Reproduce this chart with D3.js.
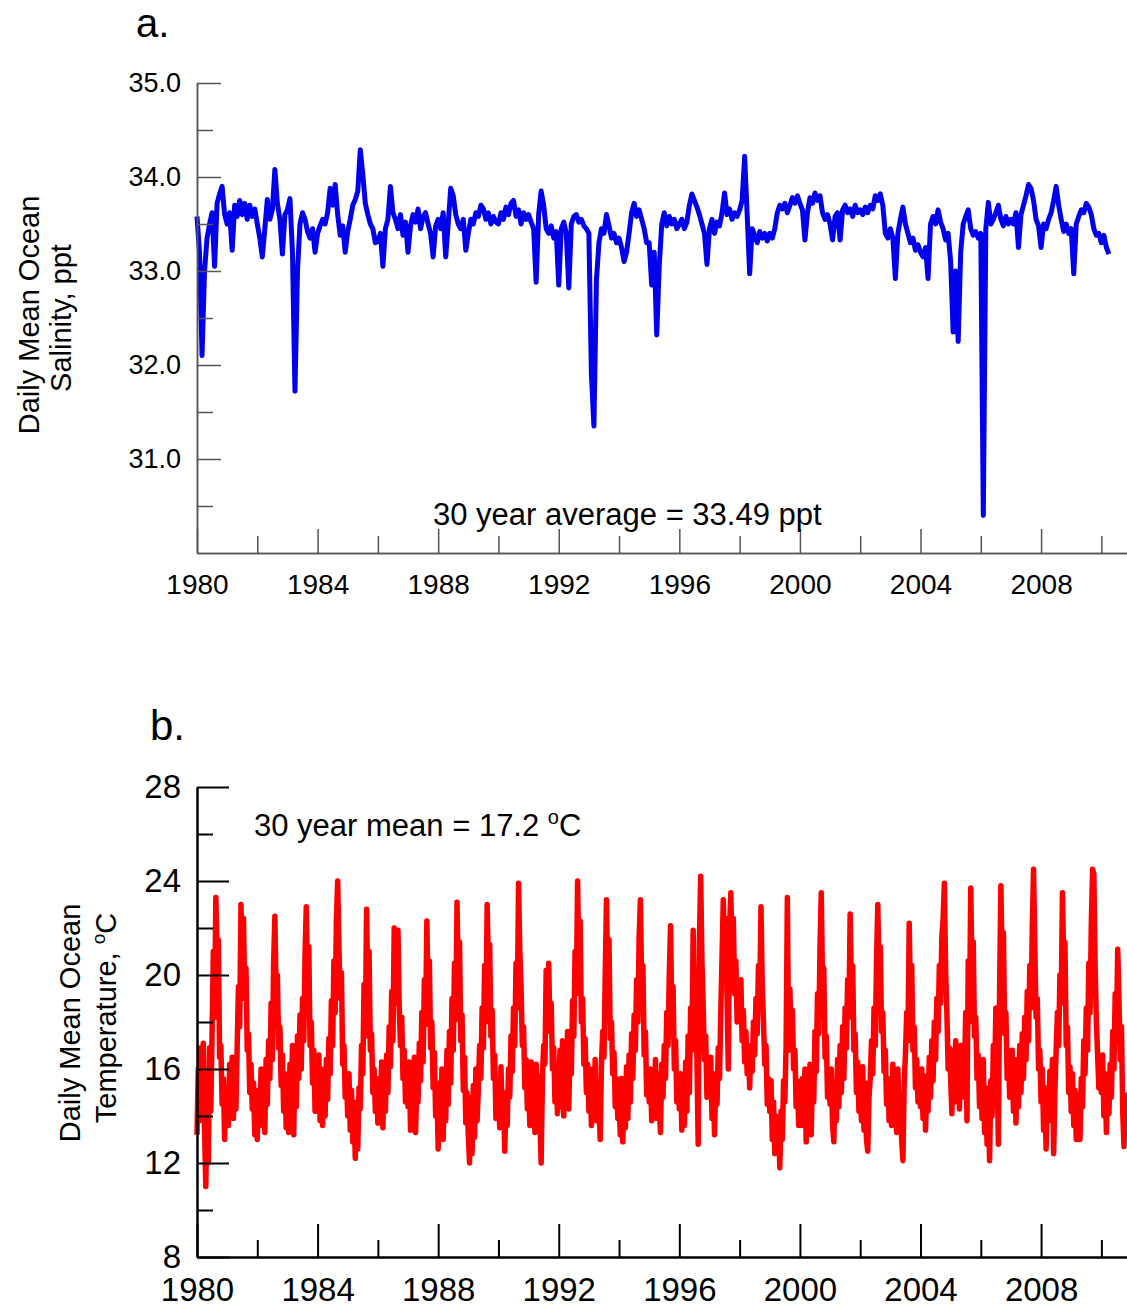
<!DOCTYPE html>
<html><head><meta charset="utf-8">
<script src="https://cdn.jsdelivr.net/npm/d3@7"></script>
<style>
html,body{margin:0;padding:0;background:#fff;}
svg{display:block;background:#fff;}
text{font-family:"Liberation Sans",Arial,Helvetica,sans-serif;fill:#000;}
</style></head><body>
<svg id="chart" width="1127" height="1308"></svg>
<script>
// ---------- tick values ----------
const yearTicks = [1980,1984,1988,1992,1996,2000,2004,2008];
const yearMinorTicks = [1982,1986,1990,1994,1998,2002,2006,2010];
const salinityTicks = [31,32,33,34,35];
const salinityMinorTicks = [30.5,31.5,32.5,33.5,34.5];
const temperatureTicks = [8,12,16,20,24,28];
const temperatureMinorTicks = [10,14,18,22,26];

// ---------- panel a: daily mean ocean salinity (ppt) ----------
const salinityStartYear = 1980;
const salinitySamplesPerYear = 12;
const salinity = [
  33.58,33.20,32.10,33.00,33.35,33.50,33.62,33.05,33.72,33.82,33.90,33.60, // 1980
  33.50,33.62,33.22,33.70,33.58,33.75,33.60,33.72,33.55,33.70,33.58,33.66, // 1981
  33.50,33.35,33.15,33.45,33.76,33.55,33.65,34.08,33.72,33.55,33.18,33.60, // 1982
  33.65,33.77,33.20,31.72,33.00,33.50,33.62,33.55,33.42,33.35,33.45,33.20, // 1983
  33.40,33.48,33.55,33.50,33.62,33.88,33.70,33.92,33.60,33.38,33.48,33.20, // 1984
  33.42,33.55,33.70,33.76,33.85,34.29,34.03,33.72,33.60,33.50,33.45,33.30, // 1985
  33.32,33.40,33.05,33.45,33.55,33.90,33.62,33.55,33.45,33.60,33.38,33.52, // 1986
  33.20,33.48,33.60,33.52,33.66,33.45,33.58,33.62,33.50,33.40,33.15,33.48, // 1987
  33.55,33.45,33.62,33.15,33.50,33.88,33.80,33.60,33.50,33.45,33.55,33.22, // 1988
  33.40,33.55,33.50,33.62,33.58,33.70,33.66,33.55,33.62,33.50,33.58,33.52, // 1989
  33.50,33.62,33.55,33.68,33.60,33.72,33.75,33.58,33.65,33.50,33.62,33.55, // 1990
  33.60,33.52,33.45,32.88,33.60,33.85,33.70,33.45,33.40,33.48,33.35,33.42, // 1991
  32.85,33.45,33.52,33.40,32.82,33.50,33.58,33.60,33.52,33.55,33.48,33.45, // 1992
  33.40,31.90,31.35,32.90,33.30,33.45,33.40,33.60,33.48,33.35,33.40,33.30, // 1993
  33.35,33.25,33.10,33.20,33.40,33.62,33.72,33.58,33.65,33.55,33.45,33.30, // 1994
  33.30,32.85,33.20,32.32,33.05,33.50,33.62,33.48,33.58,33.50,33.55,33.45, // 1995
  33.50,33.55,33.45,33.52,33.70,33.82,33.75,33.68,33.60,33.50,33.40,33.07, // 1996
  33.45,33.55,33.40,33.52,33.48,33.62,33.83,33.60,33.66,33.55,33.62,33.58, // 1997
  33.65,33.75,34.22,33.60,32.97,33.45,33.38,33.30,33.42,33.35,33.40,33.32, // 1998
  33.40,33.35,33.45,33.62,33.70,33.66,33.72,33.62,33.70,33.78,33.72,33.80, // 1999
  33.72,33.65,33.33,33.62,33.78,33.72,33.83,33.75,33.80,33.62,33.55,33.60, // 2000
  33.50,33.33,33.58,33.62,33.33,33.65,33.70,33.62,33.66,33.58,33.70,33.62, // 2001
  33.65,33.60,33.68,33.62,33.70,33.66,33.80,33.75,33.82,33.70,33.40,33.35, // 2002
  33.45,33.35,32.92,33.40,33.55,33.68,33.50,33.40,33.30,33.35,33.22,33.28, // 2003
  33.20,33.15,33.25,32.92,33.50,33.58,33.50,33.65,33.52,33.45,33.33,33.40, // 2004
  33.10,32.35,33.00,32.25,33.20,33.50,33.58,33.65,33.45,33.38,33.42,33.35, // 2005
  33.40,30.40,33.45,33.73,33.50,33.55,33.62,33.70,33.55,33.48,33.58,33.50, // 2006
  33.55,33.50,33.62,33.25,33.60,33.70,33.80,33.92,33.88,33.75,33.55,33.48, // 2007
  33.25,33.50,33.45,33.55,33.62,33.75,33.90,33.70,33.55,33.42,33.50,33.40, // 2008
  33.45,32.97,33.50,33.58,33.65,33.62,33.72,33.68,33.60,33.45,33.38,33.40, // 2009
  33.30,33.38,33.25,33.18                                                  // 2010
];

// ---------- panel b: daily mean ocean temperature (deg C), read twice a month from the figure ----------
const temperatureStartYear = 1980;
const temperatureSamplesPerYear = 24;
const temperature = [
  13.2,16.0,13.8,16.9,14.1,17.1,13.5,11.0,14.8,12.0,16.9,14.2,17.5,21.0,18.2,23.3,20.9,21.5,16.5,17.0,14.5,15.6,13.0,15.2, // 1980
  15.0,13.6,16.2,14.1,16.5,13.9,15.8,14.3,17.0,19.5,17.8,23.0,21.0,22.4,19.0,20.3,16.8,17.5,15.0,16.2,14.3,15.4,13.2,14.6, // 1981
  13.0,15.1,13.6,16.0,13.9,15.7,13.3,16.4,14.5,17.2,15.6,18.8,16.4,20.5,22.5,19.1,20.0,16.9,17.8,15.3,16.6,14.2,15.8,13.5, // 1982
  15.0,13.3,16.2,14.0,17.0,13.2,16.3,14.4,17.4,15.6,18.3,16.0,19.0,17.2,20.8,22.9,19.5,21.2,17.0,18.0,15.4,16.8,14.2,15.6, // 1983
  14.5,16.6,13.8,16.0,13.6,15.5,14.0,16.4,14.7,17.3,15.8,18.9,17.0,20.6,18.4,22.4,24.0,21.2,19.0,20.1,16.2,17.0,14.8,15.6, // 1984
  14.0,15.8,13.4,15.1,12.9,14.6,12.2,14.0,12.6,15.2,14.3,17.0,15.8,19.6,17.4,22.8,19.2,21.0,16.8,17.5,15.0,16.0,14.2,15.3, // 1985
  13.7,15.6,14.0,16.3,13.5,15.8,14.2,16.6,15.0,17.8,16.1,19.3,17.2,22.0,18.8,20.4,21.9,18.6,17.0,18.2,15.6,16.8,14.6,15.9, // 1986
  14.4,16.3,13.4,15.8,13.9,16.5,13.3,15.4,14.6,17.1,15.5,18.4,16.3,19.8,17.9,22.3,19.0,20.6,16.9,18.0,15.2,16.7,14.0,15.2, // 1987
  12.6,15.4,13.3,16.0,13.0,15.7,13.8,16.8,14.5,17.6,15.4,19.0,16.8,20.5,18.1,23.1,19.8,21.4,17.2,18.3,15.1,16.5,13.7,15.0, // 1988
  13.2,12.0,14.8,12.4,15.3,13.1,16.0,13.8,15.2,17.0,15.6,18.6,16.9,20.4,18.0,23.0,20.2,21.3,17.4,18.5,15.6,16.6,13.9,15.4, // 1989
  14.9,13.5,16.1,13.8,15.0,12.5,14.6,13.6,16.0,14.8,17.4,15.9,18.6,17.0,20.5,18.6,23.9,21.0,19.5,17.0,17.8,15.2,16.4,14.3, // 1990
  15.4,13.6,16.3,14.0,15.8,13.3,16.2,14.5,15.7,13.8,12.0,15.6,17.0,16.2,20.2,18.0,20.5,17.6,18.8,16.0,16.9,14.6,15.8,14.1, // 1991
  15.2,16.8,14.4,17.2,14.0,16.5,14.6,17.6,14.3,17.0,15.8,18.9,17.4,21.0,19.2,24.0,20.4,22.3,18.0,19.0,16.2,17.3,15.0,16.2, // 1992
  14.2,16.0,13.6,15.7,14.1,16.4,13.8,15.3,14.5,13.0,16.2,17.6,16.5,20.0,23.2,19.4,21.5,17.3,18.0,15.8,16.7,14.4,15.6,13.9, // 1993
  14.8,13.2,15.6,12.9,15.0,13.5,16.1,13.9,16.6,14.6,17.5,15.6,18.3,16.8,19.8,18.0,21.6,23.2,19.6,20.4,16.6,17.6,14.9,15.8, // 1994
  14.6,16.0,13.8,15.5,14.2,16.4,13.9,15.8,14.5,13.3,16.2,14.8,17.0,15.6,18.4,17.0,20.0,22.1,18.4,19.5,16.0,17.2,14.6,15.5, // 1995
  14.3,15.8,13.4,15.2,13.6,16.3,14.2,17.4,15.0,18.6,16.8,21.9,18.3,20.0,16.5,12.8,21.5,24.2,20.6,18.7,16.4,17.4,14.8,15.9, // 1996
  15.0,16.5,13.9,15.8,13.2,15.4,14.5,16.9,15.6,18.4,20.8,23.2,21.0,22.4,19.0,16.0,22.0,23.5,20.6,22.4,19.2,20.6,18.0,19.4, // 1997
  18.4,19.8,17.2,18.5,16.3,17.6,15.8,16.9,15.2,17.0,15.9,18.0,16.6,19.0,17.5,20.4,18.8,22.9,19.6,18.0,16.2,17.0,14.5,15.6, // 1998
  14.2,15.5,13.0,14.6,12.4,14.0,12.5,13.6,11.8,14.2,13.0,15.5,14.6,17.0,23.3,16.8,19.4,17.5,18.5,16.0,16.8,14.4,15.5,13.6, // 1999
  15.0,13.6,15.6,14.0,16.0,12.9,15.2,14.1,16.2,13.2,15.8,14.6,17.6,15.9,19.2,17.5,21.2,23.5,19.6,20.3,16.5,17.4,14.8,15.7, // 2000
  14.5,16.0,13.6,12.9,15.2,13.8,16.4,14.4,17.0,15.0,17.8,15.6,18.6,16.9,19.8,18.2,22.6,19.5,20.4,16.8,17.5,15.0,16.3,14.2, // 2001
  15.2,13.8,16.1,13.4,15.4,13.0,12.5,14.8,15.6,17.2,15.8,18.6,17.0,20.6,23.0,19.8,21.2,17.6,18.4,15.9,16.8,14.5,15.6,13.8, // 2002
  15.0,13.6,16.2,14.1,15.5,13.3,16.0,13.8,14.8,13.0,12.1,15.4,16.6,18.4,17.2,22.2,19.0,20.4,16.8,17.8,15.2,16.4,14.6,15.8, // 2003
  14.4,16.0,13.9,15.7,13.4,15.2,14.2,16.5,14.8,17.2,15.5,18.0,16.4,19.0,17.6,20.4,18.8,21.6,22.4,23.9,20.2,18.4,16.0,16.9, // 2004
  15.6,14.1,16.8,14.6,17.2,15.0,16.5,14.3,17.0,14.8,16.4,15.8,18.4,13.8,20.6,18.0,23.7,20.2,21.4,17.4,18.2,15.6,16.6,14.4, // 2005
  15.8,13.9,16.4,13.3,15.2,12.8,14.6,12.1,15.5,14.0,17.0,15.4,18.6,16.2,12.8,19.6,23.8,20.4,21.8,17.5,18.4,15.6,16.8,14.8, // 2006
  15.4,16.8,14.2,16.4,13.7,15.9,14.4,17.0,15.0,17.5,15.6,18.2,16.4,19.3,17.2,20.4,18.6,22.0,24.5,21.3,18.2,19.0,16.0,16.8, // 2007
  14.6,16.0,13.4,15.2,12.6,14.8,13.8,15.9,14.2,16.4,12.4,15.0,16.8,18.4,17.0,20.0,18.8,23.5,20.6,21.4,17.0,17.8,15.0,16.1, // 2008
  14.2,15.8,13.6,15.1,13.0,14.9,13.4,13.0,15.6,14.4,17.2,15.8,18.6,16.8,20.5,18.4,22.2,24.5,24.3,20.5,18.0,16.6,15.2,16.4, // 2009
  15.0,16.6,14.0,15.8,13.3,15.4,14.1,16.2,14.8,17.6,16.0,19.2,17.4,21.1,19.0,16.4,17.8,14.2,12.7,15.0                      // 2010
];

// ---------- drawing ----------
const svg = d3.select("#chart");
svg.append("rect").attr("width",1127).attr("height",1308).attr("fill","#fff");

const x = d3.scaleLinear().domain([1980, 2010.85]).range([197, 1127]);
const ySal = d3.scaleLinear().domain([30, 35]).range([553, 83]);
const yTemp = d3.scaleLinear().domain([8, 28]).range([1257, 787]);

const salPoints = salinity.map((v, i) => ({t: salinityStartYear + i / salinitySamplesPerYear, v}));
const tempPoints = temperature.map((v, i) => ({t: temperatureStartYear + i / temperatureSamplesPerYear, v}));

function drawPanel(cfg) {
  const g = svg.append("g");
  const x0 = x.range()[0];
  const yBase = cfg.y.range()[0];

  g.append("path")
    .datum(cfg.points)
    .attr("fill", "none")
    .attr("stroke", cfg.color)
    .attr("stroke-width", cfg.lineWidth)
    .attr("stroke-linejoin", "round")
    .attr("d", d3.line().x(d => x(d.t)).y(d => cfg.y(d.v)));

  const yMaj = g.append("g").attr("transform", `translate(${x0},0)`)
    .call(d3.axisLeft(cfg.y).tickValues(cfg.yTicks).tickFormat(cfg.yFmt)
      .tickSizeInner(-cfg.majorLen).tickSizeOuter(0).tickPadding(16));
  const yMin = g.append("g").attr("transform", `translate(${x0},0)`)
    .call(d3.axisLeft(cfg.y).tickValues(cfg.yMinor).tickFormat("")
      .tickSizeInner(-cfg.minorLen).tickSizeOuter(0));
  const xMaj = g.append("g").attr("transform", `translate(0,${yBase})`)
    .call(d3.axisBottom(x).tickValues(yearTicks).tickFormat(d3.format("d"))
      .tickSizeInner(-cfg.xMajorLen).tickSizeOuter(0).tickPadding(cfg.xPad));
  const xMin = g.append("g").attr("transform", `translate(0,${yBase})`)
    .call(d3.axisBottom(x).tickValues(yearMinorTicks).tickFormat("")
      .tickSizeInner(-cfg.xMinorLen).tickSizeOuter(0));

  [yMaj, yMin, xMaj, xMin].forEach(a => {
    a.selectAll("path.domain").attr("stroke", cfg.axisColor).attr("stroke-width", cfg.axisWidth);
    a.selectAll(".tick line").attr("stroke", cfg.axisColor).attr("stroke-width", cfg.axisWidth);
    a.selectAll(".tick text").attr("fill", "#000")
      .style("font-family", '"Liberation Sans", Arial, sans-serif');
  });
  yMaj.selectAll(".tick text").style("font-size", cfg.yTickFont + "px");
  xMaj.selectAll(".tick text").style("font-size", cfg.xTickFont + "px");
  return g;
}

// Panel a
const gA = drawPanel({
  points: salPoints, y: ySal, color: "#0000ee", lineWidth: 5,
  yTicks: salinityTicks, yMinor: salinityMinorTicks, yFmt: d3.format(".1f"),
  majorLen: 24, minorLen: 16, xMajorLen: 24, xMinorLen: 17, xPad: 21,
  axisColor: "#555", axisWidth: 1.5, yTickFont: 27, xTickFont: 28
});
gA.append("text").attr("x", 136).attr("y", 37).style("font-size", "40px").text("a.");
gA.append("text").attr("x", 433).attr("y", 525).style("font-size", "31px")
  .text("30 year average = 33.49 ppt");
gA.append("text").attr("transform", "translate(39,315) rotate(-90)")
  .attr("text-anchor", "middle").style("font-size", "29px").text("Daily Mean Ocean");
gA.append("text").attr("transform", "translate(71,318) rotate(-90)")
  .attr("text-anchor", "middle").style("font-size", "29px").text("Salinity, ppt");

// Panel b
const gB = drawPanel({
  points: tempPoints, y: yTemp, color: "#ff0000", lineWidth: 5.5,
  yTicks: temperatureTicks, yMinor: temperatureMinorTicks, yFmt: d3.format("d"),
  majorLen: 32, minorLen: 16, xMajorLen: 33, xMinorLen: 17, xPad: 21,
  axisColor: "#000", axisWidth: 2, yTickFont: 33, xTickFont: 33
});
gB.append("text").attr("x", 150).attr("y", 740).style("font-size", "42px").text("b.");
const meanTxt = gB.append("text").attr("x", 254).attr("y", 836).style("font-size", "31px");
meanTxt.append("tspan").text("30 year mean = 17.2 ");
meanTxt.append("tspan").attr("dy", -12).style("font-size", "20px").text("o");
meanTxt.append("tspan").attr("dy", 12).text("C");
gB.append("text").attr("transform", "translate(80,1023) rotate(-90)")
  .attr("text-anchor", "middle").style("font-size", "29px").text("Daily Mean Ocean");
const t2 = gB.append("text").attr("transform", "translate(116,1018) rotate(-90)")
  .attr("text-anchor", "middle").style("font-size", "29px");
t2.append("tspan").text("Temperature, ");
t2.append("tspan").attr("dy", -11).style("font-size", "19px").text("o");
t2.append("tspan").attr("dy", 11).text("C");
</script>
</body></html>
